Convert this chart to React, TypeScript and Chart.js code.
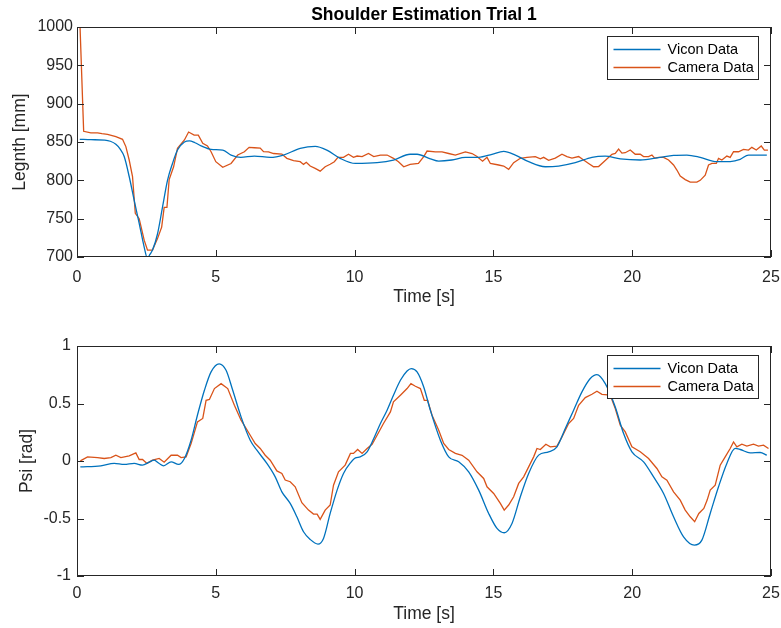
import React, { useEffect, useRef } from "react";
import { Chart, registerables } from "chart.js";

Chart.register(...registerables);

// ---------- DATA ----------
const TITLE = "Shoulder Estimation Trial 1";
const SERIES_LABELS = ["Vicon Data", "Camera Data"];
const X_LABEL = "Time [s]";
const Y_LABEL_TOP = "Legnth [mm]";
const Y_LABEL_BOTTOM = "Psi [rad]";
const X_TICKS = [0, 5, 10, 15, 20, 25];
const LEN_TICKS = [700, 750, 800, 850, 900, 950, 1000];
const PSI_TICKS = [-1, -0.5, 0, 0.5, 1];

const lenViconT = [0.1, 0.5, 1.0, 1.2, 1.4, 1.55, 1.7, 1.88, 2.06, 2.24, 2.42, 2.54, 2.62, 2.72, 2.9, 3.08, 3.26, 3.44, 3.62, 3.87, 4.05, 4.25, 4.47, 4.83, 5.25, 5.55, 5.9, 6.39, 6.96, 7.44, 8.04, 8.58, 9.0, 9.48, 10.03, 10.81, 11.4, 12.0, 12.25, 12.73, 13.03, 13.5, 13.99, 14.47, 14.95, 15.37, 15.79, 16.27, 16.87, 17.35, 17.95, 18.55, 19.03, 19.57, 20.29, 21.0, 21.49, 21.97, 22.45, 23.05, 23.53, 23.89, 24.19, 24.85];
const lenViconY = [853.5, 853, 852.5, 851, 847, 841, 831, 805, 774, 744, 713, 698, 703, 709, 730, 765, 800, 822, 839.5, 850, 851.5, 849, 845, 840.5, 839.5, 833, 830, 831.7, 830, 833, 841.7, 844.4, 839.5, 828.7, 822, 823, 826.5, 834, 834, 828, 825, 826.5, 830, 830, 834, 837.8, 833, 824.3, 817.7, 818.6, 823, 830, 831.5, 828, 826.5, 830, 832.6, 833, 830, 824.3, 824.5, 827.4, 833, 833];

const lenCameraT = [0.1, 0.24, 0.5, 0.74, 0.9, 1.1, 1.4, 1.64, 1.76, 1.88, 2.0, 2.1, 2.24, 2.42, 2.54, 2.72, 2.9, 3.05, 3.14, 3.24, 3.32, 3.48, 3.62, 3.87, 4.02, 4.22, 4.37, 4.53, 4.7, 4.83, 5.0, 5.25, 5.55, 5.79, 6.03, 6.2, 6.39, 6.6, 6.72, 6.9, 7.08, 7.38, 7.56, 7.8, 8.04, 8.16, 8.26, 8.4, 8.58, 8.76, 8.94, 9.12, 9.27, 9.4, 9.6, 9.78, 9.96, 10.09, 10.27, 10.5, 10.69, 10.93, 11.17, 11.4, 11.58, 11.77, 12.0, 12.3, 12.49, 12.61, 12.91, 13.15, 13.39, 13.63, 13.99, 14.23, 14.41, 14.61, 14.77, 14.89, 15.19, 15.37, 15.55, 15.73, 15.97, 16.21, 16.51, 16.69, 16.81, 16.99, 17.23, 17.47, 17.65, 17.83, 18.07, 18.25, 18.43, 18.61, 18.79, 18.97, 19.27, 19.39, 19.51, 19.63, 19.75, 19.93, 20.11, 20.29, 20.41, 20.59, 20.71, 20.81, 20.95, 21.13, 21.31, 21.49, 21.61, 21.73, 21.91, 22.09, 22.33, 22.45, 22.63, 22.75, 22.87, 23.03, 23.11, 23.23, 23.41, 23.53, 23.65, 23.83, 24.01, 24.19, 24.31, 24.47, 24.65, 24.76, 24.89];
const lenCameraY = [1010, 864, 862, 862, 861, 860, 857, 853.5, 844, 826.5, 805, 757, 750, 722, 709, 709, 724, 739, 764.6, 764.6, 801, 817.7, 841.7, 852.6, 863, 859, 859, 848.3, 844.8, 837.3, 824.3, 817, 822, 833, 837.3, 843, 842.5, 842, 837.3, 837, 835, 834.3, 828.7, 825.6, 824.3, 820.8, 823.5, 818.6, 815.6, 812, 817.7, 821, 824.3, 830, 830, 834, 830, 831.7, 831, 835, 831, 833, 833, 828.7, 824.3, 817.7, 820.8, 822, 831, 838.2, 837, 837, 835, 833, 837, 835, 831, 825, 830, 822, 820, 818.6, 814.3, 823, 828.7, 830, 831, 828, 830, 826, 829, 834, 831, 829, 831, 826.5, 822, 817.7, 818, 824, 834, 835, 840.8, 835.5, 836, 839.5, 834, 834, 831, 831, 833, 829, 830, 830, 826.5, 820, 813.4, 805.5, 801, 797.7, 797.7, 800, 806.8, 820, 822, 822, 828.7, 826.5, 831.7, 830, 837.3, 837.3, 840.4, 839.5, 843, 839.5, 844.8, 839.5, 839.5];

const psiViconT = [0.12, 0.86, 1.34, 1.7, 2.06, 2.36, 2.6, 2.78, 2.95, 3.12, 3.39, 3.66, 3.87, 4.11, 4.34, 4.59, 4.83, 5.12, 5.37, 5.61, 5.91, 6.24, 6.48, 6.84, 7.14, 7.38, 7.68, 7.92, 8.16, 8.4, 8.68, 8.88, 9.12, 9.37, 9.6, 9.85, 10.03, 10.2, 10.45, 10.69, 10.93, 11.17, 11.4, 11.65, 11.89, 12.04, 12.25, 12.49, 12.73, 13.09, 13.39, 13.75, 14.11, 14.47, 14.83, 15.13, 15.39, 15.67, 15.97, 16.27, 16.63, 16.99, 17.29, 17.59, 17.89, 18.19, 18.49, 18.73, 19.03, 19.39, 19.69, 19.99, 20.41, 20.77, 21.13, 21.49, 21.85, 22.24, 22.51, 22.81, 23.11, 23.41, 23.71, 23.89, 24.25, 24.61, 24.85];
const psiViconY = [-0.051, -0.042, -0.021, -0.03, -0.021, -0.036, -0.01, 0.007, -0.02, -0.042, -0.007, -0.03, 0.022, 0.18, 0.4, 0.615, 0.775, 0.845, 0.789, 0.615, 0.384, 0.181, 0.094, -0.021, -0.138, -0.268, -0.369, -0.485, -0.615, -0.682, -0.722, -0.673, -0.456, -0.253, -0.108, -0.016, 0.027, 0.035, 0.08, 0.196, 0.326, 0.442, 0.572, 0.702, 0.783, 0.804, 0.775, 0.644, 0.44, 0.181, 0.036, -0.007, -0.094, -0.253, -0.456, -0.586, -0.624, -0.543, -0.311, -0.108, 0.051, 0.079, 0.123, 0.282, 0.442, 0.601, 0.717, 0.751, 0.673, 0.47, 0.239, 0.08, -0.007, -0.138, -0.282, -0.485, -0.659, -0.731, -0.688, -0.456, -0.224, -0.021, 0.109, 0.1, 0.071, 0.074, 0.051];

const psiCameraT = [0.12, 0.38, 0.74, 0.98, 1.22, 1.4, 1.58, 1.88, 2.12, 2.24, 2.36, 2.52, 2.72, 2.96, 3.14, 3.39, 3.62, 3.75, 3.93, 4.11, 4.34, 4.53, 4.65, 4.77, 4.95, 5.19, 5.43, 5.67, 5.91, 6.24, 6.42, 6.6, 6.78, 6.96, 7.2, 7.38, 7.5, 7.68, 7.86, 8.1, 8.34, 8.52, 8.65, 8.76, 8.94, 9.12, 9.24, 9.42, 9.66, 9.85, 9.96, 10.11, 10.27, 10.45, 10.63, 10.81, 11.04, 11.29, 11.4, 11.65, 11.89, 12.03, 12.19, 12.37, 12.51, 12.63, 12.79, 13.03, 13.21, 13.39, 13.63, 13.87, 14.11, 14.41, 14.65, 14.77, 15.01, 15.25, 15.39, 15.55, 15.73, 15.91, 16.09, 16.27, 16.45, 16.57, 16.69, 16.89, 17.05, 17.29, 17.47, 17.71, 17.89, 18.07, 18.31, 18.55, 18.73, 18.91, 19.21, 19.39, 19.57, 19.75, 19.99, 20.29, 20.59, 20.89, 21.07, 21.25, 21.49, 21.73, 21.91, 22.09, 22.25, 22.4, 22.58, 22.7, 22.81, 22.99, 23.17, 23.35, 23.53, 23.65, 23.77, 23.95, 24.13, 24.37, 24.55, 24.73, 24.91];
const psiCameraY = [0.001, 0.036, 0.03, 0.022, 0.03, 0.05, 0.03, 0.045, 0.071, 0.013, 0.013, -0.021, 0.007, 0.022, -0.01, 0.05, 0.05, 0.03, 0.036, 0.152, 0.34, 0.37, 0.528, 0.535, 0.63, 0.673, 0.63, 0.485, 0.355, 0.224, 0.152, 0.109, 0.05, 0.007, -0.086, -0.108, -0.166, -0.18, -0.224, -0.363, -0.427, -0.462, -0.462, -0.508, -0.427, -0.383, -0.21, -0.094, -0.036, 0.066, 0.066, 0.1, 0.066, 0.109, 0.146, 0.224, 0.326, 0.427, 0.514, 0.572, 0.63, 0.673, 0.65, 0.63, 0.528, 0.528, 0.398, 0.268, 0.152, 0.1, 0.066, 0.05, 0.007, -0.094, -0.152, -0.224, -0.282, -0.369, -0.427, -0.383, -0.311, -0.195, -0.138, -0.051, 0.036, 0.109, 0.1, 0.146, 0.123, 0.13, 0.21, 0.326, 0.37, 0.485, 0.551, 0.58, 0.607, 0.58, 0.572, 0.456, 0.311, 0.253, 0.123, 0.08, 0.022, -0.065, -0.138, -0.166, -0.268, -0.34, -0.427, -0.485, -0.528, -0.456, -0.412, -0.34, -0.253, -0.21, -0.036, 0.036, 0.109, 0.166, 0.123, 0.146, 0.13, 0.146, 0.13, 0.138, 0.109];

// ---------- STYLE ----------
const FONT = '"Liberation Sans", Arial, Helvetica, sans-serif';
const BLUE = "#0072BD";
const ORANGE = "#D95319";
const AX = "#262626";
const W = 781;
const H = 314;

const toPoints = (t: number[], v: number[]) => t.map((x, i) => ({ x, y: v[i] }));

const matlabAxes = {
  id: "matlabAxes",
  afterDatasetsDraw(chart: any) {
    const { ctx, chartArea } = chart;
    const { left, right, top, bottom } = chartArea;
    const xs = chart.scales.x;
    const ys = chart.scales.y;
    const L = 7;
    ctx.save();
    ctx.strokeStyle = AX;
    ctx.lineWidth = 1;
    ctx.beginPath();
    xs.ticks.forEach((t: any) => {
      const px = Math.round(xs.getPixelForValue(t.value)) + 0.5;
      ctx.moveTo(px, bottom);
      ctx.lineTo(px, bottom - L);
      ctx.moveTo(px, top);
      ctx.lineTo(px, top + L);
    });
    ys.ticks.forEach((t: any) => {
      const py = Math.round(ys.getPixelForValue(t.value)) + 0.5;
      ctx.moveTo(left, py);
      ctx.lineTo(left + L, py);
      ctx.moveTo(right, py);
      ctx.lineTo(right - L, py);
    });
    ctx.stroke();
    ctx.strokeRect(Math.round(left) + 0.5, Math.round(top) + 0.5, Math.round(right - left) - 1, Math.round(bottom - top) - 1);

    // legend box (MATLAB style, northeast)
    const bx = Math.round(right) - 164 + 0.5;
    const by = Math.round(top) + 9.5;
    const bw = 151;
    const bh = 43;
    ctx.fillStyle = "#ffffff";
    ctx.fillRect(bx, by, bw, bh);
    ctx.strokeStyle = AX;
    ctx.strokeRect(bx, by, bw, bh);
    ctx.font = `14.5px ${FONT}`;
    ctx.textBaseline = "middle";
    ctx.textAlign = "left";
    chart.data.datasets.forEach((ds: any, i: number) => {
      const ry = by + 13 + i * 18;
      ctx.strokeStyle = ds.borderColor;
      ctx.lineWidth = 1.3;
      ctx.beginPath();
      ctx.moveTo(bx + 6, ry);
      ctx.lineTo(bx + 53, ry);
      ctx.stroke();
      ctx.fillStyle = "#000000";
      ctx.fillText(ds.label, bx + 60, ry + 0.5);
    });
    ctx.restore();
  },
};

function makeConfig(opts: {
  vT: number[]; vY: number[]; cT: number[]; cY: number[];
  yMin: number; yMax: number; yTicks: number[]; yLabel: string;
  title?: string; padTop: number; xHeight: number; xTickPad: number; xTitlePad: number;
  yTickPad: number; yTitlePad: number;
}) {
  return {
    type: "line",
    data: {
      datasets: [
        {
          label: SERIES_LABELS[0],
          data: toPoints(opts.vT, opts.vY),
          borderColor: BLUE,
          backgroundColor: BLUE,
          borderWidth: 1.3,
          pointRadius: 0,
          cubicInterpolationMode: "monotone",
          fill: false,
        },
        {
          label: SERIES_LABELS[1],
          data: toPoints(opts.cT, opts.cY),
          borderColor: ORANGE,
          backgroundColor: ORANGE,
          borderWidth: 1.3,
          pointRadius: 0,
          tension: 0,
          fill: false,
        },
      ],
    },
    options: {
      responsive: false,
      maintainAspectRatio: false,
      animation: false,
      devicePixelRatio: 1,
      layout: { padding: { left: 0, right: 0, top: opts.padTop, bottom: 0 } },
      plugins: {
        legend: { display: false },
        tooltip: { enabled: false },
        title: opts.title
          ? {
              display: true,
              text: opts.title,
              fullSize: false,
              color: "#000000",
              font: { family: FONT, size: 17.5, weight: "bold" },
              padding: { top: 5, bottom: 1 },
            }
          : { display: false },
      },
      scales: {
        x: {
          type: "linear",
          min: 0,
          max: 25,
          afterBuildTicks: (s: any) => {
            s.ticks = X_TICKS.map((value) => ({ value }));
          },
          afterFit: (s: any) => {
            s.height = opts.xHeight;
            s.paddingLeft = 0;
            s.paddingRight = 10;
          },
          grid: { display: false, drawTicks: false },
          border: { display: false },
          ticks: {
            color: AX,
            font: { family: FONT, size: 16 },
            padding: opts.xTickPad,
            maxRotation: 0,
            autoSkip: false,
            callback: (v: any) => String(v),
          },
          title: {
            display: true,
            text: X_LABEL,
            color: AX,
            font: { family: FONT, size: 17.5 },
            padding: { top: 0, bottom: opts.xTitlePad },
          },
        },
        y: {
          type: "linear",
          min: opts.yMin,
          max: opts.yMax,
          afterBuildTicks: (s: any) => {
            s.ticks = opts.yTicks.map((value) => ({ value }));
          },
          afterFit: (s: any) => {
            s.width = 77;
          },
          grid: { display: false, drawTicks: false },
          border: { display: false },
          ticks: {
            color: AX,
            font: { family: FONT, size: 16 },
            padding: opts.yTickPad,
            autoSkip: false,
            callback: (v: any) => String(v),
          },
          title: {
            display: true,
            text: opts.yLabel,
            color: AX,
            font: { family: FONT, size: 17.5 },
            padding: { top: opts.yTitlePad, bottom: 0 },
          },
        },
      },
    },
    plugins: [matlabAxes],
  };
}

export default function App() {
  const topRef = useRef<HTMLCanvasElement | null>(null);
  const botRef = useRef<HTMLCanvasElement | null>(null);

  useEffect(() => {
    const top = new Chart(
      topRef.current as HTMLCanvasElement,
      makeConfig({
        vT: lenViconT, vY: lenViconY, cT: lenCameraT, cY: lenCameraY,
        yMin: 700, yMax: 1000, yTicks: LEN_TICKS, yLabel: Y_LABEL_TOP,
        title: TITLE, padTop: 0, xHeight: 57, xTickPad: 11, xTitlePad: 6,
        yTickPad: 4, yTitlePad: 10,
      }) as any
    );
    const bot = new Chart(
      botRef.current as HTMLCanvasElement,
      makeConfig({
        vT: psiViconT, vY: psiViconY, cT: psiCameraT, cY: psiCameraY,
        yMin: -1, yMax: 1, yTicks: PSI_TICKS, yLabel: Y_LABEL_BOTTOM,
        padTop: 32, xHeight: 52, xTickPad: 8, xTitlePad: 3,
        yTickPad: 6, yTitlePad: 17,
      }) as any
    );
    return () => {
      top.destroy();
      bot.destroy();
    };
  }, []);

  return (
    <div style={{ position: "fixed", left: 0, top: 0, width: W, height: 2 * H, background: "#ffffff" }}>
      <canvas ref={topRef} width={W} height={H} style={{ display: "block", width: W, height: H }} />
      <canvas ref={botRef} width={W} height={H} style={{ display: "block", width: W, height: H }} />
    </div>
  );
}
